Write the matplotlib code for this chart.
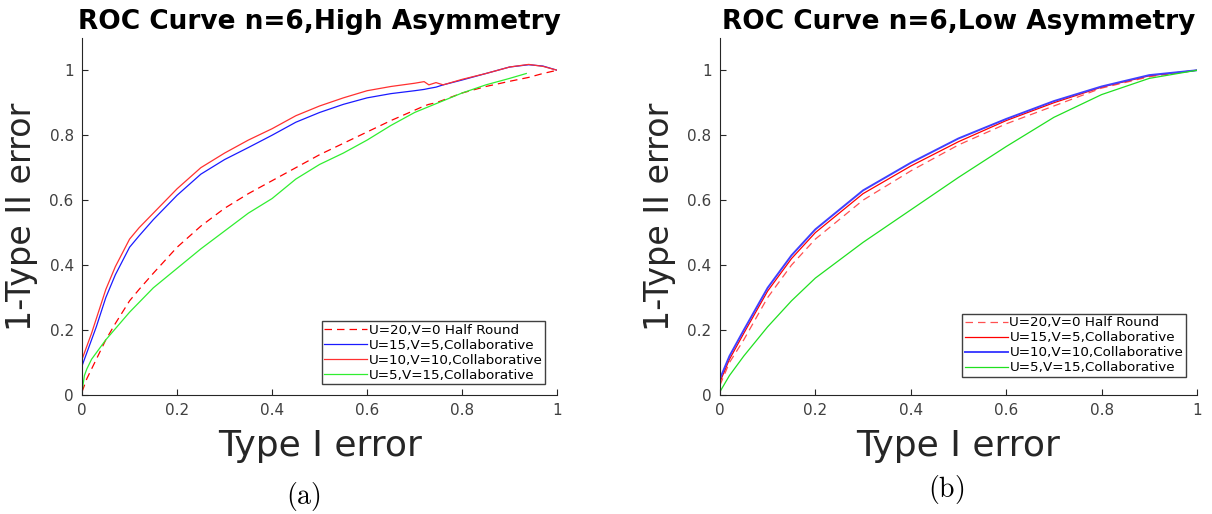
import matplotlib.pyplot as plt

# ---- data ----
# (a) high asymmetry
xa = [0, 0.01, 0.02, 0.03, 0.05, 0.07, 0.1, 0.12, 0.15, 0.2, 0.25, 0.3, 0.35, 0.4, 0.45, 0.5, 0.55, 0.6, 0.65,
      0.7, 0.72, 0.73, 0.745, 0.76, 0.8, 0.85, 0.9, 0.94, 0.97, 1.0]
a_half = [0.01, 0.05, 0.08, 0.11, 0.17, 0.22, 0.29, 0.325, 0.375, 0.455, 0.52, 0.575, 0.62, 0.66, 0.70, 0.74,
          0.775, 0.81, 0.845, 0.877, 0.89, 0.895, 0.90, 0.908, 0.93, 0.95, 0.966, 0.978, 0.99, 1.0]
a_u15 = [0.09, 0.13, 0.17, 0.21, 0.30, 0.37, 0.455, 0.49, 0.54, 0.615, 0.68, 0.725, 0.762, 0.80, 0.84, 0.87,
         0.895, 0.915, 0.928, 0.937, 0.941, 0.944, 0.948, 0.955, 0.97, 0.99, 1.01, 1.017, 1.013, 1.0]
a_u10 = [0.11, 0.15, 0.19, 0.235, 0.325, 0.395, 0.48, 0.515, 0.56, 0.635, 0.70, 0.745, 0.785, 0.82, 0.86, 0.89,
         0.915, 0.937, 0.95, 0.96, 0.965, 0.955, 0.962, 0.955, 0.972, 0.99, 1.01, 1.018, 1.012, 1.0]
xa_g = [0, 0.005, 0.01, 0.02, 0.05, 0.1, 0.15, 0.2, 0.25, 0.3, 0.35, 0.4, 0.45, 0.5, 0.55, 0.6, 0.65, 0.7, 0.75,
        0.8, 0.85, 0.9, 0.935]
a_u5 = [0.01, 0.06, 0.08, 0.11, 0.17, 0.255, 0.33, 0.39, 0.45, 0.505, 0.56, 0.605, 0.665, 0.71, 0.745, 0.785,
        0.83, 0.87, 0.9, 0.93, 0.955, 0.975, 0.99]

# (b) low asymmetry
xb = [0, 0.02, 0.05, 0.1, 0.15, 0.2, 0.3, 0.4, 0.5, 0.6, 0.7, 0.8, 0.9, 1.0]
b_half = [0.03, 0.10, 0.17, 0.30, 0.40, 0.48, 0.60, 0.69, 0.77, 0.835, 0.89, 0.945, 0.98, 1.0]
b_u15 = [0.04, 0.11, 0.19, 0.32, 0.42, 0.50, 0.62, 0.705, 0.78, 0.845, 0.90, 0.948, 0.983, 1.0]
b_u10 = [0.05, 0.12, 0.20, 0.33, 0.43, 0.51, 0.63, 0.715, 0.79, 0.85, 0.905, 0.95, 0.985, 1.0]
b_u5 = [0.01, 0.06, 0.12, 0.21, 0.29, 0.36, 0.47, 0.57, 0.67, 0.765, 0.855, 0.925, 0.975, 1.0]

ticks = [0, 0.2, 0.4, 0.6, 0.8, 1]
tick_labels = ['0', '0.2', '0.4', '0.6', '0.8', '1']


def style_axes(ax, title):
    ax.set_xlim(0, 1)
    ax.set_ylim(0, 1.1)
    ax.set_xticks(ticks)
    ax.set_xticklabels(tick_labels)
    ax.set_yticks(ticks)
    ax.set_yticklabels(tick_labels)
    for side in ['top', 'right']:
        ax.spines[side].set_visible(False)
    for side in ['left', 'bottom']:
        ax.spines[side].set_color('#262626')
        ax.spines[side].set_linewidth(0.8)
    ax.tick_params(direction='in', length=4, width=0.8, colors='#262626', labelsize=11, pad=6)
    for lab in ax.get_xticklabels() + ax.get_yticklabels():
        lab.set_color('#404040')
    ax.set_xlabel('Type I error', fontsize=26, color='#262626', labelpad=8)
    ax.set_ylabel('1-Type II error', fontsize=24, color='#262626', labelpad=8)
    ax.set_title(title, fontsize=19, fontweight='bold', pad=6)


def add_legend(ax, anchor):
    ax.legend(loc='lower right', bbox_to_anchor=anchor, fontsize=9.7, frameon=True, fancybox=False,
              edgecolor='#404040', handlelength=3.2, handletextpad=0.1, borderpad=0.2, labelspacing=0.15,
              borderaxespad=0, framealpha=1)


if __name__ == '__main__':
    plt.rcParams['mathtext.fontset'] = 'cm'
    fig = plt.figure(figsize=(12.12, 5.14), dpi=100)

    ax1 = fig.add_axes([0.0677, 0.2315, 0.392, 0.695])
    ax1.plot(xa, a_half, color='#ff0000', linestyle=(0, (6, 4)), linewidth=0.9, label='U=20,V=0 Half Round')
    ax1.plot(xa, a_u15, color='#1a1aff', linewidth=0.9, label='U=15,V=5,Collaborative')
    ax1.plot(xa, a_u10, color='#ff3030', linewidth=0.9, label='U=10,V=10,Collaborative')
    ax1.plot(xa_g, a_u5, color='#30ee30', linewidth=0.9, label='U=5,V=15,Collaborative')
    style_axes(ax1, 'ROC Curve n=6,High Asymmetry')
    add_legend(ax1, (0.975, 0.03))

    ax2 = fig.add_axes([0.594, 0.2315, 0.3936, 0.695])
    ax2.plot(xb, b_half, color='#ff5050', linestyle=(0, (6, 4)), linewidth=0.9, label='U=20,V=0 Half Round')
    ax2.plot(xb, b_u15, color='#ff0000', linewidth=0.9, label='U=15,V=5,Collaborative')
    ax2.plot(xb, b_u10, color='#4040ff', linewidth=1.4, label='U=10,V=10,Collaborative')
    ax2.plot(xb, b_u5, color='#20e020', linewidth=0.9, label='U=5,V=15,Collaborative')
    style_axes(ax2, 'ROC Curve n=6,Low Asymmetry')
    add_legend(ax2, (0.977, 0.05))

    fig.text(0.25, 0.034, r'$\mathrm{(a)}$', fontsize=20, ha='center', va='center')
    fig.text(0.781, 0.047, r'$\mathrm{(b)}$', fontsize=20, ha='center', va='center')

    plt.savefig('out.png', dpi=100)
